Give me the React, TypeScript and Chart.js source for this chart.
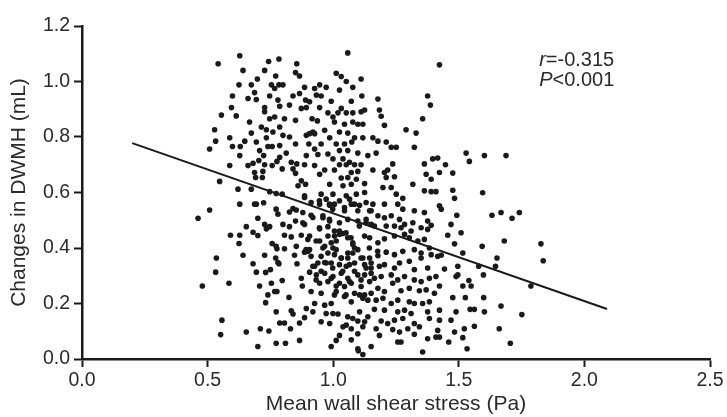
import React, { useEffect, useRef } from "react";
import { Chart, registerables } from "chart.js";

Chart.register(...registerables);

// Mean wall shear stress (Pa), change in DWMH (mL)
const observations: [number, number][] = [
  // upper-left region
  [0.628, 1.093], [0.542, 1.064], [0.784, 1.081], [0.743, 1.072], [0.641, 1.04], [0.727, 1.04], [0.855, 1.064],
  [0.85, 1.032], [0.866, 1.02], [0.698, 1.009], [0.771, 1.02], [0.674, 0.988], [0.625, 0.988], [0.754, 0.988],
  [0.784, 0.988], [0.8, 0.988], [0.767, 0.975], [0.886, 0.979], [0.866, 0.957], [0.687, 0.96], [0.599, 0.948],
  [0.661, 0.939], [0.694, 0.935], [0.747, 0.948], [0.78, 0.933], [0.84, 0.948], [0.89, 0.933], [0.906, 0.927],
  [0.826, 0.915], [0.787, 0.911], [0.727, 0.906], [0.595, 0.906], [0.873, 0.903], [0.893, 0.906], [0.555, 0.879],
  [0.614, 0.876], [0.727, 0.891], [0.767, 0.872], [0.806, 0.866], [0.747, 0.866], [0.85, 0.86], [0.667, 0.854],
  [0.916, 0.866], [0.714, 0.836], [0.734, 0.826], [0.787, 0.836], [0.76, 0.818], [0.528, 0.826], [0.674, 0.814],
  [0.893, 0.806], [0.906, 0.812], [0.919, 0.818], [0.588, 0.797], [0.648, 0.785], [0.694, 0.782], [0.734, 0.797],
  [0.8, 0.806], [0.826, 0.8], [0.532, 0.785], [0.599, 0.766], [0.63, 0.766], [0.74, 0.766], [0.757, 0.766],
  [0.787, 0.769], [0.85, 0.775], [0.903, 0.775], [0.508, 0.757], [0.707, 0.751], [0.813, 0.742], [0.628, 0.733],
  [0.723, 0.733], [0.787, 0.727], [0.893, 0.733], [0.588, 0.697], [0.661, 0.697], [0.681, 0.705], [0.704, 0.715],
  [0.727, 0.7], [0.757, 0.697], [0.776, 0.712], [0.833, 0.709], [0.855, 0.703], [0.886, 0.7], [0.84, 0.685],
  [0.85, 0.669], [0.797, 0.685], [0.687, 0.672], [0.72, 0.676], [0.548, 0.64], [0.691, 0.654], [0.718, 0.654],
  [0.873, 0.642], [0.89, 0.63], [0.86, 0.624], [0.621, 0.612], [0.674, 0.612], [0.747, 0.603], [0.773, 0.596],
  [0.886, 0.588], [0.797, 0.594], [0.723, 0.563],
  // upper-middle region
  [1.058, 1.103], [1.423, 1.06], [1.012, 1.03], [1.032, 1.018], [1.111, 1.009], [1.052, 1.0], [0.946, 0.988],
  [0.972, 0.979], [0.926, 0.975], [1.025, 0.969], [1.078, 0.979], [0.933, 0.951], [0.952, 0.948], [1.114, 0.948],
  [0.992, 0.929], [1.072, 0.929], [1.178, 0.937], [0.946, 0.906], [1.032, 0.903], [0.979, 0.887], [1.019, 0.887],
  [1.052, 0.887], [1.078, 0.887], [1.111, 0.891], [1.125, 0.897], [1.184, 0.897], [1.191, 0.875], [0.999, 0.872],
  [0.937, 0.858], [1.005, 0.854], [1.078, 0.854], [1.098, 0.846], [1.118, 0.846], [1.045, 0.846], [1.204, 0.842],
  [0.966, 0.824], [1.025, 0.818], [0.926, 0.812], [1.058, 0.814], [1.29, 0.826], [1.33, 0.814], [1.356, 0.866],
  [1.376, 0.948], [1.387, 0.915], [0.986, 0.797], [1.085, 0.797], [1.118, 0.797], [1.158, 0.797], [1.178, 0.785],
  [1.211, 0.782], [0.952, 0.775], [1.012, 0.775], [1.045, 0.775], [1.074, 0.782], [1.231, 0.763], [1.251, 0.763],
  [1.323, 0.763], [0.926, 0.757], [1.025, 0.751], [1.058, 0.751], [1.098, 0.742], [1.138, 0.733], [1.171, 0.742],
  [0.979, 0.739], [0.939, 0.737], [0.999, 0.721], [1.039, 0.721], [1.065, 0.709], [1.025, 0.7], [1.052, 0.7],
  [1.085, 0.7], [1.111, 0.7], [1.237, 0.703], [1.363, 0.703], [1.396, 0.721], [1.416, 0.724], [0.926, 0.697],
  [0.966, 0.681], [1.005, 0.681], [1.072, 0.672], [1.098, 0.676], [1.158, 0.681], [1.204, 0.672], [1.217, 0.681],
  [1.37, 0.666], [1.39, 0.648], [0.946, 0.666], [1.032, 0.652], [1.058, 0.654], [1.092, 0.648], [1.211, 0.654],
  [1.244, 0.657], [0.986, 0.63], [1.039, 0.624], [1.072, 0.63], [1.125, 0.632], [1.198, 0.618], [1.231, 0.618],
  [1.317, 0.63], [1.363, 0.606], [1.39, 0.603], [1.409, 0.603], [0.952, 0.594], [0.999, 0.594], [1.052, 0.588],
  [1.092, 0.594], [1.125, 0.6], [1.251, 0.594], [1.277, 0.579], [0.972, 0.576],
  // upper-right region
  [1.529, 0.742], [1.602, 0.733], [1.688, 0.733], [1.542, 0.712], [1.447, 0.7], [1.423, 0.672], [1.476, 0.67],
  [1.476, 0.608], [1.483, 0.579], [1.595, 0.599],
  // lower-left region
  [0.628, 0.558], [0.694, 0.558], [0.687, 0.558], [0.462, 0.507], [0.508, 0.537], [0.7, 0.507], [0.773, 0.54],
  [0.78, 0.522], [0.826, 0.53], [0.853, 0.537], [0.84, 0.542], [0.879, 0.528], [0.912, 0.518], [0.85, 0.497],
  [0.8, 0.485], [0.826, 0.477], [0.886, 0.485], [0.654, 0.477], [0.727, 0.485], [0.747, 0.477], [0.734, 0.469],
  [0.681, 0.457], [0.7, 0.445], [0.591, 0.446], [0.628, 0.446], [0.806, 0.446], [0.833, 0.44], [0.873, 0.446],
  [0.906, 0.443], [0.625, 0.416], [0.757, 0.416], [0.773, 0.406], [0.776, 0.397], [0.806, 0.397], [0.853, 0.406],
  [0.886, 0.385], [0.899, 0.388], [0.906, 0.394], [0.641, 0.374], [0.727, 0.374], [0.846, 0.374], [0.535, 0.364],
  [0.771, 0.364], [0.78, 0.348], [0.784, 0.343], [0.856, 0.343], [0.681, 0.343], [0.919, 0.334], [0.532, 0.313],
  [0.694, 0.313], [0.731, 0.312], [0.75, 0.322], [0.906, 0.313], [0.873, 0.291], [0.797, 0.283], [0.585, 0.273],
  [0.754, 0.273], [0.479, 0.263], [0.707, 0.263], [0.877, 0.263], [0.767, 0.243], [0.776, 0.243], [0.74, 0.231],
  [0.912, 0.243], [0.824, 0.222], [0.731, 0.203], [0.893, 0.182], [0.773, 0.17], [0.833, 0.174], [0.84, 0.162],
  [0.919, 0.17], [0.886, 0.149], [0.787, 0.13], [0.806, 0.13], [0.866, 0.13], [0.557, 0.14], [0.71, 0.109],
  [0.744, 0.101], [0.654, 0.097], [0.83, 0.109], [0.552, 0.088], [0.773, 0.057], [0.81, 0.057], [0.866, 0.067],
  [0.7, 0.045],
  // lower-middle region
  [0.946, 0.558], [0.986, 0.554], [1.005, 0.558], [1.045, 0.546], [1.072, 0.558], [1.105, 0.554], [1.145, 0.534],
  [1.158, 0.558], [1.204, 0.558], [1.257, 0.558], [1.277, 0.54], [1.323, 0.534], [1.363, 0.528], [1.376, 0.497],
  [1.423, 0.552], [1.178, 0.516], [1.204, 0.509], [1.231, 0.516], [1.264, 0.503], [1.284, 0.485], [1.317, 0.491],
  [1.35, 0.473], [1.376, 0.467], [1.39, 0.482], [0.959, 0.509], [0.986, 0.497], [1.025, 0.491], [1.058, 0.503],
  [1.098, 0.497], [1.131, 0.491], [1.164, 0.479], [1.211, 0.479], [1.244, 0.479], [1.27, 0.473], [1.31, 0.461],
  [0.979, 0.477], [0.946, 0.469],
  [1.005, 0.443], [1.025, 0.449], [1.058, 0.437], [1.078, 0.419], [1.085, 0.4], [1.078, 0.382], [1.058, 0.364],
  [1.032, 0.364], [1.005, 0.376], [0.999, 0.4], [1.012, 0.425], [1.039, 0.452], [0.946, 0.425], [0.966, 0.406],
  [0.979, 0.382], [0.952, 0.37], [0.939, 0.346], [0.966, 0.348], [0.992, 0.346], [1.025, 0.34], [1.052, 0.334],
  [1.085, 0.346], [1.125, 0.443], [1.145, 0.437], [1.178, 0.419], [1.204, 0.433], [1.244, 0.443], [1.284, 0.449],
  [1.303, 0.437], [1.337, 0.425], [1.363, 0.431], [1.383, 0.4], [1.35, 0.382], [1.323, 0.394], [1.277, 0.388],
  [1.244, 0.376], [1.211, 0.385], [1.178, 0.372], [1.145, 0.364], [1.111, 0.364], [1.264, 0.346], [1.303, 0.352],
  [1.35, 0.364], [1.39, 0.376], [1.416, 0.37], [1.244, 0.328], [1.151, 0.328], [1.125, 0.34], [1.204, 0.34],
  [1.323, 0.322], [1.376, 0.328],
  [0.933, 0.303], [0.966, 0.309], [0.999, 0.297], [1.032, 0.309], [1.058, 0.291], [1.085, 0.316], [1.125, 0.303],
  [1.151, 0.309], [1.191, 0.297], [1.231, 0.303], [1.257, 0.285], [1.284, 0.297], [1.323, 0.285], [1.35, 0.279],
  [1.383, 0.291], [1.409, 0.297], [0.946, 0.273], [0.979, 0.279], [1.012, 0.263], [1.045, 0.261], [1.072, 0.273],
  [1.111, 0.261], [1.145, 0.279], [1.178, 0.255], [1.204, 0.243], [1.237, 0.273], [1.27, 0.246], [1.303, 0.255],
  [1.343, 0.246], [1.37, 0.249], [1.403, 0.237], [0.952, 0.237], [1.005, 0.231], [1.045, 0.225], [1.105, 0.231],
  [1.125, 0.231], [1.171, 0.212], [1.198, 0.219], [1.257, 0.212], [1.303, 0.206], [1.323, 0.2], [1.356, 0.2],
  [1.383, 0.206], [0.926, 0.2], [0.966, 0.194], [0.992, 0.2], [1.072, 0.206], [1.138, 0.212], [1.231, 0.2],
  [0.972, 0.164], [0.999, 0.164], [1.019, 0.162], [1.058, 0.152], [1.078, 0.146], [1.105, 0.17], [1.164, 0.179],
  [1.204, 0.176], [1.257, 0.17], [1.284, 0.176], [1.31, 0.164], [1.376, 0.17], [1.423, 0.176], [0.952, 0.134],
  [0.986, 0.128], [1.052, 0.122], [1.098, 0.137], [1.125, 0.134], [1.138, 0.152], [1.191, 0.137], [1.244, 0.14],
  [1.277, 0.146], [1.323, 0.128], [1.383, 0.146], [1.039, 0.116], [1.072, 0.109], [1.118, 0.116], [1.171, 0.109],
  [1.217, 0.128], [1.237, 0.106], [1.264, 0.097], [1.297, 0.109], [1.343, 0.116], [1.416, 0.103], [1.025, 0.085],
  [1.098, 0.091], [1.184, 0.085], [1.323, 0.089], [1.376, 0.073], [1.012, 0.067], [1.072, 0.069], [1.257, 0.061],
  [1.27, 0.061], [1.151, 0.045], [1.409, 0.079], [0.992, 0.045], [1.098, 0.037], [1.118, 0.016], [1.356, 0.025],
  [1.1, 0.03],
  // dense core (extra readings)
  [0.886, 0.582], [0.912, 0.564], [0.945, 0.57], [0.985, 0.558], [1.025, 0.57], [1.065, 0.576], [1.085, 0.558],
  [1.131, 0.564], [0.998, 0.54], [1.045, 0.534], [1.098, 0.534], [1.151, 0.534], [0.879, 0.491], [0.919, 0.51],
  [0.959, 0.516], [0.985, 0.503], [1.025, 0.461], [1.051, 0.455], [1.071, 0.437], [1.005, 0.461], [0.979, 0.443],
  [0.945, 0.473], [1.131, 0.503], [1.151, 0.485], [1.104, 0.479], [0.899, 0.431], [0.932, 0.425], [0.892, 0.394],
  [0.912, 0.37], [0.959, 0.4], [0.992, 0.419], [1.012, 0.394], [1.032, 0.364], [1.058, 0.382], [1.078, 0.413],
  [1.098, 0.394], [1.118, 0.364], [1.144, 0.4], [1.177, 0.388], [0.926, 0.334], [0.952, 0.316], [0.972, 0.346],
  [0.998, 0.328], [1.038, 0.316], [1.065, 0.34], [1.098, 0.303], [1.131, 0.328], [1.151, 0.346], [1.184, 0.334],
  [0.932, 0.285], [0.992, 0.291], [1.025, 0.273], [1.065, 0.279], [1.111, 0.285], [1.164, 0.291], [1.012, 0.243],
  [1.051, 0.231], [1.085, 0.237], [1.118, 0.219], [1.151, 0.237],
  // lower-right region
  [1.43, 0.54], [1.492, 0.518], [1.469, 0.485], [1.456, 0.446], [1.509, 0.455], [1.483, 0.415], [1.43, 0.374],
  [1.516, 0.382], [1.593, 0.406], [1.632, 0.518], [1.668, 0.528], [1.712, 0.507], [1.741, 0.528], [1.681, 0.425],
  [1.827, 0.415], [1.836, 0.354], [1.652, 0.364], [1.646, 0.334], [1.443, 0.324], [1.496, 0.334], [1.579, 0.334],
  [1.489, 0.297], [1.496, 0.303], [1.598, 0.303], [1.423, 0.263], [1.516, 0.263], [1.54, 0.283], [1.549, 0.263],
  [1.787, 0.263], [1.476, 0.221], [1.526, 0.221], [1.599, 0.221], [1.489, 0.17], [1.545, 0.179], [1.562, 0.179],
  [1.602, 0.17], [1.668, 0.191], [1.751, 0.16], [1.423, 0.14], [1.469, 0.14], [1.562, 0.118], [1.483, 0.097],
  [1.522, 0.109], [1.661, 0.109], [1.423, 0.079], [1.46, 0.061], [1.516, 0.077], [1.705, 0.057], [1.533, 0.037],
];

const fitX = [0.2, 2.09];
const fitY = [0.778, 0.18];

const xTickValues = [0, 0.5, 1.0, 1.5, 2.0, 2.5];
const yTickValues = [0, 0.2, 0.4, 0.6, 0.8, 1.0, 1.2];

const statR = "-0.315";
const statP = "0.001";

const FONT = "'Liberation Sans', Arial, Helvetica, sans-serif";
const INK = "#1a1a1a";
const TEXT = "#2a2a2a";

const statsPlugin = {
  id: "statsText",
  afterDraw(chart: any) {
    const { ctx, scales } = chart;
    const x0 = scales.x.getPixelForValue(1.82);
    const y1 = scales.y.getPixelForValue(1.077);
    const y2 = scales.y.getPixelForValue(1.005);
    ctx.save();
    ctx.fillStyle = TEXT;
    ctx.textBaseline = "middle";
    ctx.textAlign = "left";
    ctx.font = `italic 20px ${FONT}`;
    ctx.fillText("r", x0, y1);
    const wr = ctx.measureText("r").width;
    ctx.fillText("P", x0, y2);
    const wp = ctx.measureText("P").width;
    ctx.font = `20px ${FONT}`;
    ctx.fillText("=" + statR, x0 + wr, y1);
    ctx.fillText("<" + statP, x0 + wp, y2);
    ctx.restore();
  },
};

export default function App() {
  const ref = useRef<HTMLCanvasElement | null>(null);

  useEffect(() => {
    document.body.style.margin = "0";
    const canvas = ref.current;
    if (!canvas) return;
    const chart = new Chart(canvas, {
      type: "scatter",
      data: {
        datasets: [
          {
            type: "line",
            data: fitX.map((x, i) => ({ x, y: fitY[i] })),
            borderColor: INK,
            borderWidth: 2,
            pointRadius: 0,
            fill: false,
            order: 0,
          } as any,
          {
            type: "scatter",
            data: observations.map(([x, y]) => ({ x, y })),
            backgroundColor: INK,
            borderWidth: 0,
            pointRadius: 2.8,
            order: 1,
          },
        ],
      },
      options: {
        animation: false,
        responsive: false,
        maintainAspectRatio: false,
        layout: { padding: { top: 26, right: 17, left: 0, bottom: 0 } },
        plugins: { legend: { display: false }, tooltip: { enabled: false } },
        scales: {
          x: {
            type: "linear",
            min: 0,
            max: 2.5,
            afterBuildTicks: (s: any) => {
              s.ticks = xTickValues.map((v) => ({ value: v }));
            },
            afterFit: (s: any) => {
              s.height = 58;
            },
            ticks: {
              color: TEXT,
              font: { family: FONT, size: 19.5 },
              padding: 2,
              callback: (v: any) => Number(v).toFixed(1),
            },
            grid: {
              drawOnChartArea: false,
              drawTicks: true,
              tickLength: 8,
              tickWidth: 2,
              tickColor: INK,
            },
            border: { color: INK, width: 2.5 },
            title: {
              display: true,
              text: "Mean wall shear stress (Pa)",
              color: TEXT,
              font: { family: FONT, size: 21 },
              padding: { top: 0, bottom: 0 },
            },
          },
          y: {
            type: "linear",
            min: 0,
            max: 1.2,
            afterBuildTicks: (s: any) => {
              s.ticks = yTickValues.map((v) => ({ value: v }));
            },
            afterFit: (s: any) => {
              s.width = 82;
            },
            ticks: {
              color: TEXT,
              font: { family: FONT, size: 19.5 },
              padding: 4,
              callback: (v: any) => Number(v).toFixed(1),
            },
            grid: {
              drawOnChartArea: false,
              drawTicks: true,
              tickLength: 8,
              tickWidth: 2,
              tickColor: INK,
            },
            border: { color: INK, width: 2.5 },
            title: {
              display: true,
              text: "Changes in DWMH (mL)",
              color: TEXT,
              font: { family: FONT, size: 21 },
              padding: { top: 7, bottom: 0 },
            },
          },
        },
      },
      plugins: [statsPlugin],
    });
    return () => chart.destroy();
  }, []);

  return (
    <div style={{ position: "fixed", left: 0, top: 0, width: 727, height: 417, background: "#fff" }}>
      <canvas ref={ref} width={727} height={417} style={{ width: 727, height: 417, display: "block" }} />
    </div>
  );
}
